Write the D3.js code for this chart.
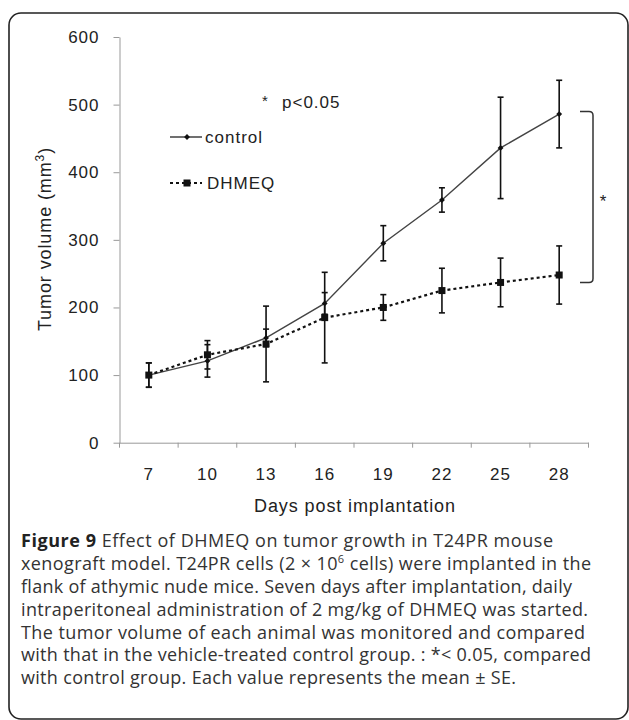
<!DOCTYPE html>
<html><head><meta charset="utf-8">
<script src="https://cdn.jsdelivr.net/npm/d3@7/dist/d3.min.js"></script>
<style>
body{margin:0;background:#fff;}
svg text{font-family:"Liberation Sans",Arial,sans-serif;fill:#222;}
svg text.cap{font-family:"Open Sans",sans-serif;fill:#333;}
</style></head><body>
<svg id="c" width="629" height="720"></svg>
<script>
const days = [7, 10, 13, 16, 19, 22, 25, 28];
const controlMean = [100, 121, 155, 206, 295, 359, 436, 486];
const controlSE   = [18, 24, 13, 16, 26, 18, 75, 50];
const dhmeqMean   = [100, 130, 146, 185, 200, 225, 237, 248];
const dhmeqSE     = [18, 21, 56, 67, 19, 33, 36, 43];
const yTicks = [0, 100, 200, 300, 400, 500, 600];
const bracketRange = [237, 490];
const seriesNames = ["control", "DHMEQ"];
const xTitle = "Days post implantation";
const sigNote = "p<0.05";

const svg = d3.select("#c");

// frame
svg.append("rect").attr("x", 9).attr("y", 13).attr("width", 619).attr("height", 706)
  .attr("rx", 12).attr("fill", "none").attr("stroke", "#222").attr("stroke-width", 1.6);

const x = d3.scaleBand().domain(days).range([119.5, 588.5]).padding(0);
const y = d3.scaleLinear().domain([0, 600]).range([442.7, 37]);
const axisCol = "#999";

// y axis
const gy = svg.append("g").attr("transform", "translate(119.5,0)")
  .call(d3.axisLeft(y).tickValues(yTicks).tickSize(6).tickPadding(14).tickSizeOuter(0));
gy.select(".domain").attr("stroke", axisCol);
gy.selectAll(".tick line").attr("stroke", axisCol);
gy.selectAll(".tick text").attr("font-size", 17).style("letter-spacing", "1px");

// x axis
const gx = svg.append("g").attr("transform", "translate(0,442.7)")
  .call(d3.axisBottom(x).tickSize(0).tickPadding(25));
gx.select(".domain").attr("stroke", axisCol);
gx.selectAll(".tick text").attr("font-size", 17).style("letter-spacing", "1px");
const bounds = days.map(d => x(d)).concat([x(days[days.length - 1]) + x.bandwidth()]);
gx.selectAll(".bt").data(bounds).enter().append("line")
  .attr("x1", d => d).attr("x2", d => d).attr("y1", 0).attr("y2", 5).attr("stroke", axisCol);

// titles
svg.append("text").attr("x", 355).attr("y", 512).attr("text-anchor", "middle")
  .attr("font-size", 18).style("letter-spacing", "0.9px").text(xTitle);
const yt = svg.append("text").attr("transform", "translate(51,239) rotate(-90)")
  .attr("text-anchor", "middle").attr("font-size", 18).style("letter-spacing", "0.9px");
yt.append("tspan").text("Tumor volume (mm");
yt.append("tspan").attr("font-size", 12).attr("dy", -7).text("3");
yt.append("tspan").attr("dy", 7).text(")");

const cx = d => x(d) + x.bandwidth() / 2;

// lines
const line = d3.line().x((d, i) => cx(days[i])).y(d => y(d));
svg.append("path").datum(controlMean).attr("d", line).attr("fill", "none")
  .attr("stroke", "#444").attr("stroke-width", 1.4);
svg.append("path").datum(dhmeqMean).attr("d", line).attr("fill", "none")
  .attr("stroke", "#111").attr("stroke-width", 2.2).attr("stroke-dasharray", "3,3");

// error bars
function errBars(means, ses) {
  const g = svg.append("g").attr("stroke", "#111").attr("stroke-width", 1.6);
  means.forEach((m, i) => {
    const X = cx(days[i]);
    const t = y(m + ses[i]), b = y(m - ses[i]);
    g.append("line").attr("x1", X).attr("x2", X).attr("y1", t).attr("y2", b);
    g.append("line").attr("x1", X - 3).attr("x2", X + 3).attr("y1", t).attr("y2", t);
    g.append("line").attr("x1", X - 3).attr("x2", X + 3).attr("y1", b).attr("y2", b);
  });
}
errBars(controlMean, controlSE);
errBars(dhmeqMean, dhmeqSE);

// markers
svg.append("g").selectAll("path").data(controlMean).enter().append("path")
  .attr("d", d3.symbol(d3.symbolDiamond2, 22))
  .attr("transform", (d, i) => `translate(${cx(days[i])},${y(d)})`).attr("fill", "#111");
svg.append("g").selectAll("rect").data(dhmeqMean).enter().append("rect")
  .attr("x", (d, i) => cx(days[i]) - 3.5).attr("y", d => y(d) - 3.5)
  .attr("width", 7).attr("height", 7).attr("fill", "#111");

// legend
svg.append("text").attr("x", 262).attr("y", 106).attr("font-size", 15).text("*");
svg.append("text").attr("x", 282).attr("y", 108).attr("font-size", 17).style("letter-spacing", "1px").text(sigNote);
svg.append("line").attr("x1", 170).attr("x2", 202).attr("y1", 137).attr("y2", 137)
  .attr("stroke", "#333").attr("stroke-width", 1.4);
svg.append("path").attr("d", d3.symbol(d3.symbolDiamond2, 22)).attr("transform", "translate(187,137)").attr("fill", "#111");
svg.append("text").attr("x", 205).attr("y", 143).attr("font-size", 17).style("letter-spacing", "1px").text(seriesNames[0]);
svg.append("line").attr("x1", 170).attr("x2", 202).attr("y1", 183).attr("y2", 183)
  .attr("stroke", "#111").attr("stroke-width", 2).attr("stroke-dasharray", "3,3");
svg.append("rect").attr("x", 183.5).attr("y", 179.5).attr("width", 7).attr("height", 7).attr("fill", "#111");
svg.append("text").attr("x", 207).attr("y", 189).attr("font-size", 17).style("letter-spacing", "1px").text(seriesNames[1]);

// significance bracket
const bt = y(bracketRange[1]), bb = y(bracketRange[0]);
svg.append("path")
  .attr("d", `M580,${bt} L589,${bt} Q593,${bt} 593,${bt + 4} L593,${bb - 4} Q593,${bb} 589,${bb} L580,${bb}`)
  .attr("fill", "none").attr("stroke", "#333").attr("stroke-width", 1.5);
svg.append("text").attr("x", 603).attr("y", (bt + bb) / 2 + 10).attr("text-anchor", "middle")
  .attr("font-size", 17).text("*");

// caption
const capLines = [
  [["b", "Figure 9"], ["n", " Effect of DHMEQ on tumor growth in T24PR mouse"]],
  [["n", "xenograft model. T24PR cells (2 × 10"], ["s", "6"], ["r", " cells) were implanted in the"]],
  [["n", "flank of athymic nude mice. Seven days after implantation, daily"]],
  [["n", "intraperitoneal administration of 2 mg/kg of DHMEQ was started."]],
  [["n", "The tumor volume of each animal was monitored and compared"]],
  [["n", "with that in the vehicle-treated control group. : *< 0.05, compared"]],
  [["n", "with control group. Each value represents the mean ± SE."]]
];
const capEnds = [553, 591, 572, 588, 585, 591, 516];
capLines.forEach((ln, i) => {
  const t = svg.append("text").attr("class", "cap").attr("x", 21).attr("y", 547.3 + i * 22.8)
    .attr("font-size", 18);
  ln.forEach(([k, s]) => {
    const ts = t.append("tspan").text(s);
    if (k === "b") ts.attr("font-weight", "bold").style("fill", "#222");
    if (k === "s") ts.attr("font-size", 11).attr("dy", -7);
    if (k === "r") ts.attr("dy", 7);
  });
  const full = ln.map(q => q[1]).join("");
  const len = t.node().getComputedTextLength();
  const ls = (capEnds[i] - 21 - len) / (full.length - 1);
  t.style("letter-spacing", ls + "px");
});
</script>
</body></html>
